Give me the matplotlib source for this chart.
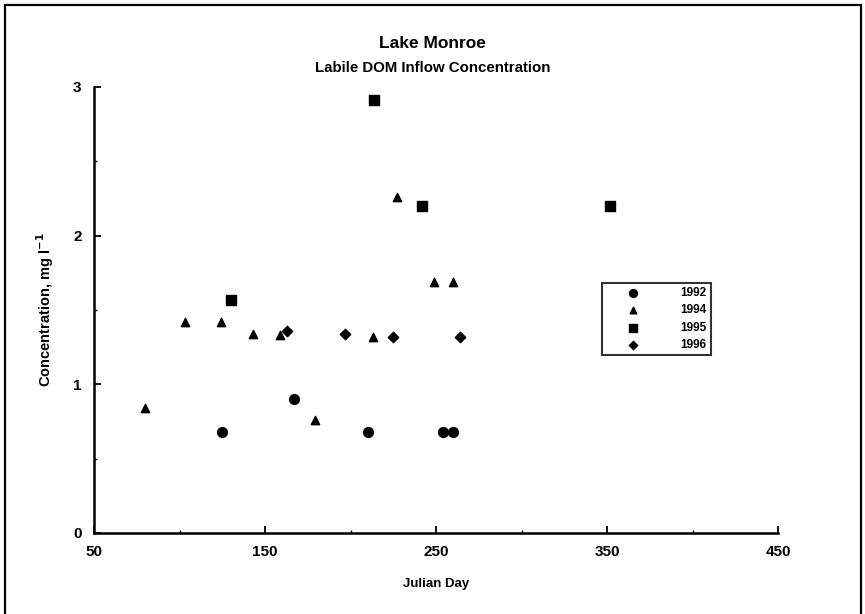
import matplotlib
matplotlib.use("Agg")
import matplotlib.pyplot as plt
from matplotlib.patches import Rectangle

plt.rcParams['font.family'] = ['Liberation Sans', 'DejaVu Sans']
plt.rcParams['font.weight'] = 'bold'

# Datos (dia juliano, concentracion mg/l)
dias_1992 = [125, 167, 210, 254, 260]
conc_1992 = [0.68, 0.90, 0.68, 0.68, 0.68]

dias_1994 = [80, 103, 124, 143, 159, 179, 213, 227, 249, 260]
conc_1994 = [0.84, 1.42, 1.42, 1.34, 1.33, 0.76, 1.32, 2.26, 1.69, 1.69]

dias_1995 = [130, 214, 242, 352]
conc_1995 = [1.57, 2.91, 2.20, 2.20]

dias_1996 = [163, 197, 225, 264]
conc_1996 = [1.36, 1.34, 1.32, 1.32]

ticks_x = [50, 150, 250, 350, 450]
ticks_x_menores = [100, 200, 300, 400]
ticks_y = [0, 1, 2, 3]
ticks_y_menores = [0.5, 1.5, 2.5]

fig = plt.figure(figsize=(8.65, 6.14), dpi=100)
ax = fig.add_axes([94 / 865, 81 / 614, 684 / 865, 446 / 614])

ax.scatter(dias_1992, conc_1992, marker='o', s=50, c='black', label='1992')
ax.scatter(dias_1994, conc_1994, marker='^', s=36, c='black', label='1994')
ax.scatter(dias_1995, conc_1995, marker='s', s=50, c='black', label='1995')
ax.scatter(dias_1996, conc_1996, marker='D', s=28, c='black', label='1996')

ax.set_xlim(50, 450)
ax.set_ylim(0, 3)
ax.set_xticks(ticks_x)
ax.set_xticks(ticks_x_menores, minor=True)
ax.set_yticks(ticks_y)
ax.set_yticks(ticks_y_menores, minor=True)

for lado in ['top', 'right']:
    ax.spines[lado].set_visible(False)
for lado in ['left', 'bottom']:
    ax.spines[lado].set_linewidth(1.8)

ax.tick_params(which='major', direction='in', length=5, width=1.3, labelsize=11, pad=9)
ax.tick_params(which='minor', direction='in', length=2.5, width=1.0)
for lab in ax.get_xticklabels() + ax.get_yticklabels():
    lab.set_fontweight('bold')

ax.set_xlabel('Julian Day', fontsize=9.5, fontweight='bold', labelpad=13)
ax.set_ylabel('Concentration, mg l$^{-1}$', fontsize=10.5, fontweight='bold', labelpad=12)

fig.text(0.5, 1 - 43 / 614, 'Lake Monroe', ha='center', va='center', fontsize=12.5, fontweight='bold')
fig.text(0.5, 1 - 68 / 614, 'Labile DOM Inflow Concentration', ha='center', va='center',
         fontsize=10.8, fontweight='bold')

leg = ax.legend(loc='upper left', bbox_to_anchor=(602 / 865, 1 - 283 / 614),
                bbox_transform=fig.transFigure, fontsize=8.5, frameon=True, fancybox=False,
                borderpad=0.35, handlelength=4.6, handletextpad=1.7, labelspacing=0.45,
                borderaxespad=0, scatterpoints=1, markerscale=0.8)
leg.get_frame().set_edgecolor('black')
leg.get_frame().set_linewidth(1.5)
for t in leg.get_texts():
    t.set_fontweight('bold')

# Marco alrededor de toda la figura
fig.patches.append(Rectangle((5 / 865, -0.01), 856 / 865, 1 - 5 / 614 + 0.01,
                             transform=fig.transFigure, fill=False, lw=1.6, ec='black'))

fig.savefig('out.png', dpi=100)
